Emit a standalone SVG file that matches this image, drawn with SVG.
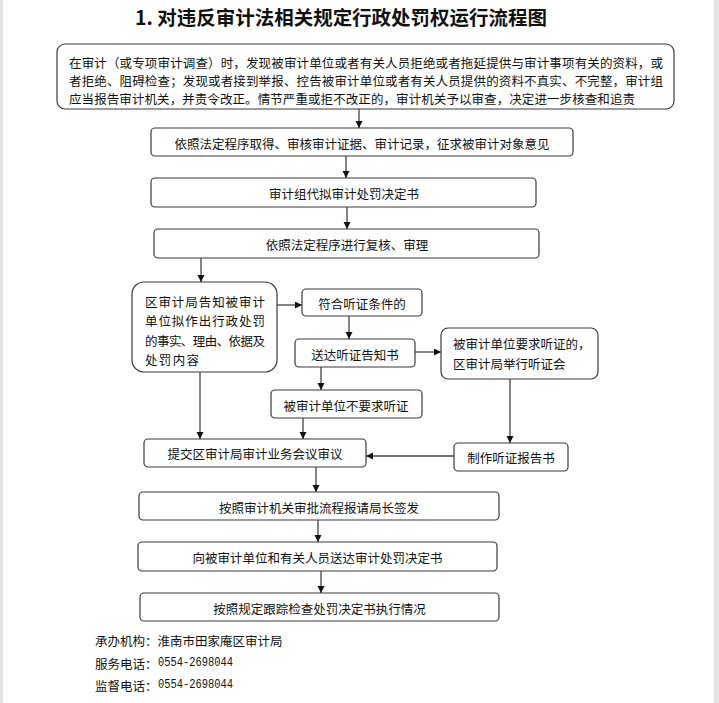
<svg xmlns="http://www.w3.org/2000/svg" width="719" height="703" viewBox="0 0 719 703">
<defs>
<style>
.bx{fill:#fff;stroke:#3a3a3a;stroke-width:1.2}
.t{font-family:"Noto Sans CJK SC","Noto Sans",sans-serif;font-size:12.5px;fill:#111;dominant-baseline:central}
.c{text-anchor:middle}
.ln{stroke:#444;stroke-width:1.3;fill:none;marker-end:url(#ah)}
.mono{font-family:"Liberation Mono","DejaVu Sans Mono",monospace;font-size:12.5px;fill:#111;dominant-baseline:central}
</style>
<marker id="ah" markerUnits="userSpaceOnUse" markerWidth="8" markerHeight="8" refX="7" refY="3.5" orient="auto">
<path d="M0,0 L7,3.5 L0,7 z" fill="#111"/>
</marker>
</defs>
<rect x="0" y="0" width="719" height="703" fill="#fff"/>
<rect x="0" y="0" width="3" height="703" fill="#e4e4e4"/>
<rect x="714" y="0" width="5" height="703" fill="#e4e4e4"/>

<text x="135" y="16" font-family="'Noto Sans CJK SC',sans-serif" font-size="19.5" font-weight="bold" fill="#111" dominant-baseline="central" textLength="412" lengthAdjust="spacingAndGlyphs">1. 对违反审计法相关规定行政处罚权运行流程图</text>

<g id="n1">
<rect class="bx" x="57" y="44" width="617" height="65" rx="8"/>
<text class="t" x="69" y="62" font-size="12.6" textLength="594">在审计（或专项审计调查）时，发现被审计单位或者有关人员拒绝或者拖延提供与审计事项有关的资料，或</text>
<text class="t" x="69" y="80" font-size="12.6" textLength="594">者拒绝、阻碍检查；发现或者接到举报、控告被审计单位或者有关人员提供的资料不真实、不完整，审计组</text>
<text class="t" x="69" y="98" font-size="12.6" textLength="566">应当报告审计机关，并责令改正。情节严重或拒不改正的，审计机关予以审查，决定进一步核查和追责</text>
</g>
<g id="n2">
<rect class="bx" x="151" y="128" width="422" height="28" rx="4"/>
<text class="t c" x="362" y="143">依照法定程序取得、审核审计证据、审计记录，征求被审计对象意见</text>
</g>
<g id="n3">
<rect class="bx" x="151" y="178" width="385" height="29" rx="4"/>
<text class="t c" x="344" y="193">审计组代拟审计处罚决定书</text>
</g>
<g id="n4">
<rect class="bx" x="154" y="229" width="385" height="29" rx="4"/>
<text class="t c" x="347" y="244">依照法定程序进行复核、审理</text>
</g>
<g id="n5">
<rect class="bx" x="132" y="282" width="145" height="90" rx="12"/>
<text class="t" x="145" y="301" font-size="13.3" textLength="120">区审计局告知被审计</text>
<text class="t" x="145" y="320" font-size="13.3" textLength="120">单位拟作出行政处罚</text>
<text class="t" x="145" y="340" font-size="13.3" textLength="120">的事实、理由、依据及</text>
<text class="t" x="145" y="359" font-size="13.3" textLength="54">处罚内容</text>
</g>
<g id="n6">
<rect class="bx" x="302" y="289" width="120" height="27" rx="4"/>
<text class="t c" x="362" y="303">符合听证条件的</text>
</g>
<g id="n7">
<rect class="bx" x="295" y="339" width="120" height="28" rx="4"/>
<text class="t c" x="355" y="354">送达听证告知书</text>
</g>
<g id="n8">
<rect class="bx" x="441" y="328" width="157" height="51" rx="7"/>
<text class="t" x="453" y="343">被审计单位要求听证的，</text>
<text class="t" x="453" y="363">区审计局举行听证会</text>
</g>
<g id="n9">
<rect class="bx" x="271" y="390" width="151" height="28" rx="4"/>
<text class="t c" x="346" y="405">被审计单位不要求听证</text>
</g>
<g id="n10">
<rect class="bx" x="144" y="439" width="222" height="28" rx="4"/>
<text class="t c" x="255" y="453">提交区审计局审计业务会议审议</text>
</g>
<g id="n11">
<rect class="bx" x="454" y="443" width="114" height="28" rx="4"/>
<text class="t c" x="511" y="457">制作听证报告书</text>
</g>
<g id="n12">
<rect class="bx" x="139" y="492" width="360" height="28" rx="4"/>
<text class="t c" x="319" y="507">按照审计机关审批流程报请局长签发</text>
</g>
<g id="n13">
<rect class="bx" x="138" y="542" width="359" height="29" rx="4"/>
<text class="t c" x="317.5" y="557">向被审计单位和有关人员送达审计处罚决定书</text>
</g>
<g id="n14">
<rect class="bx" x="140" y="593" width="359" height="28" rx="4"/>
<text class="t c" x="319.5" y="608">按照规定跟踪检查处罚决定书执行情况</text>
</g>

<g id="connectors">
<path class="ln" d="M359,109 V128"/>
<path class="ln" d="M346,156 V178"/>
<path class="ln" d="M347,207 V229"/>
<path class="ln" d="M201,258 V282"/>
<path class="ln" d="M277,305 H302"/>
<path class="ln" d="M349,316 V339"/>
<path class="ln" d="M415,352 H441"/>
<path class="ln" d="M321,367 V390"/>
<path class="ln" d="M303,418 V439"/>
<path class="ln" d="M200,372 V439"/>
<path class="ln" d="M510,379 V443"/>
<path class="ln" d="M454,456 H366"/>
<path class="ln" d="M316,467 V492"/>
<path class="ln" d="M318,520 V542"/>
<path class="ln" d="M321,571 V593"/>
</g>

<g id="footer">
<text class="t" x="95" y="640">承办机构：淮南市田家庵区审计局</text>
<text class="t" x="95" y="663">服务电话：</text>
<text class="mono" x="158" y="663" textLength="75" lengthAdjust="spacingAndGlyphs">0554-2698044</text>
<text class="t" x="95" y="685">监督电话：</text>
<text class="mono" x="158" y="685" textLength="75" lengthAdjust="spacingAndGlyphs">0554-2698044</text>
</g>
</svg>
